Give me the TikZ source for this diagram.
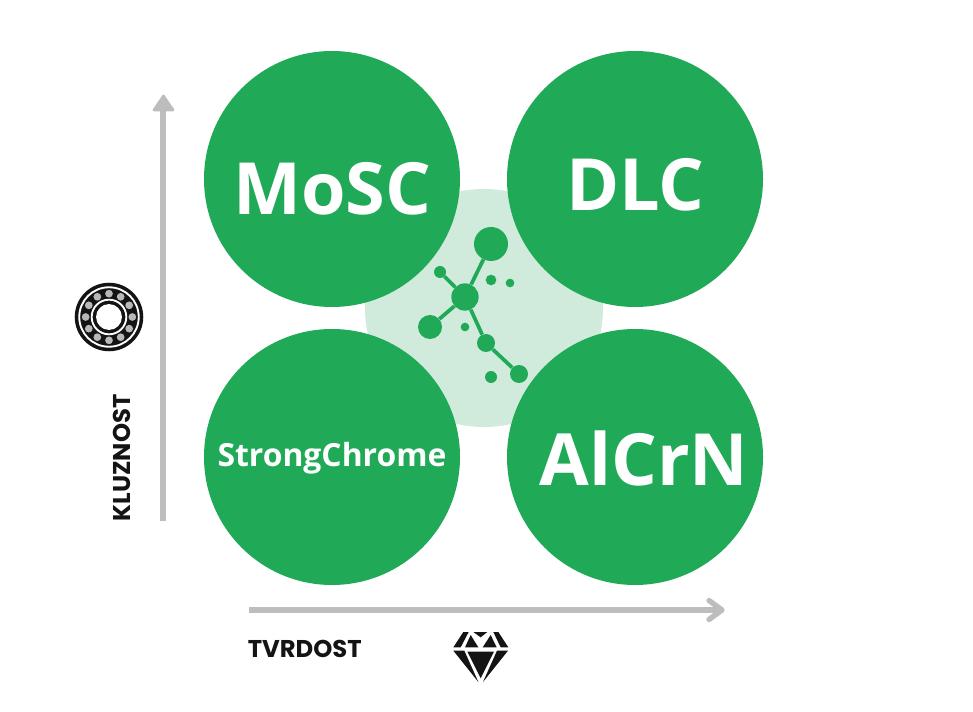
\documentclass[tikz,border=0pt]{standalone}
\usepackage{fontspec}
\setmainfont{Open Sans}
\newfontfamily\labelfont{Poppins}
\definecolor{gr}{HTML}{20AA58}
\definecolor{lgr}{HTML}{D0EBDC}
\definecolor{ax}{HTML}{BDBDBD}
\definecolor{ic}{HTML}{141414}
\tikzset{
 x=0.75pt,y=-0.75pt,
 disc/.style={circle,fill=gr,draw=none,minimum size=192pt,inner sep=0pt},
 disclabel/.style={text=white,inner sep=0pt},
 biglabel/.style={disclabel,font=\bfseries\fontsize{54}{62}\selectfont},
 axlabel/.style={text=ic,font=\labelfont\bfseries\fontsize{18.2}{21}\selectfont,inner sep=0pt},
 atom/.style={circle,fill=gr,draw=none,inner sep=0pt},
 bond/.style={draw=gr,line width=2.8pt},
 axis/.style={draw=ax,line width=4pt},
}
\begin{document}
\begin{tikzpicture}
\useasboundingbox (0,0) rectangle (973,712);
\fill[white] (0,0) rectangle (973,712);
% light background
\node[circle,fill=lgr,minimum size=178.5pt,inner sep=0pt] (halo) at (484,308) {};
% discs
\node[disc] (mosc) at (332,179) {};
\node[disc] (dlc) at (635,179) {};
\node[disc] (sc) at (332,457) {};
\node[disc] (alcrn) at (635,457) {};
\node[biglabel] (t1) at (332.5,189) {MoSC};
\node[biglabel] (t2) at (635.5,185) {DLC};
\node[disclabel,font=\bfseries\fontsize{23.9}{28}\selectfont] (t3) at (332,458) {StrongChrome};
\node[biglabel] (t4) at (644,458) {AlCrN};
% molecule
\node[atom,minimum size=25.5pt] (a1) at (491,244) {};
\node[atom,minimum size=9pt] (a2) at (440,272) {};
\node[atom,minimum size=20.5pt] (a3) at (465,297) {};
\node[atom,minimum size=18pt] (a4) at (430,327) {};
\node[atom,minimum size=13.5pt] (a5) at (486,343) {};
\node[atom,minimum size=13.5pt] (a6) at (519,374) {};
\draw[bond] (a3)--(a1);
\draw[bond] (a3)--(a2);
\draw[bond] (a3)--(a4);
\draw[bond] (a3)--(a5);
\draw[bond] (a5)--(a6);
\node[atom,minimum size=8pt] (d1) at (491,280) {};
\node[atom,minimum size=6.5pt] (d2) at (510,283) {};
\node[atom,minimum size=6.5pt] (d3) at (465,327) {};
\node[atom,minimum size=9pt] (d4) at (491,377) {};
% axes
\coordinate (v0) at (163,521);
\coordinate (v1) at (163,105);
\coordinate (h0) at (249,610);
\coordinate (h1) at (722,610);
\draw[axis] (v0)--(v1);
\fill[ax,draw=ax,line width=2pt,line join=round] (163.5,96)--(154,110)--(173,110)--cycle;
\draw[axis] (h0)--(h1);
\draw[axis,line join=round,line cap=round] (709,600.5)--(722,610)--(709,619.5);
% labels
\node[axlabel,anchor=west] (tv) at (247.5,649) {TVRDOST};
\node[axlabel,rotate=90,anchor=west] (kl) at (122,521.5) {KLUZNOST};
% bearing
\begin{scope}[shift={(109,317)}]
 \fill[ic] (0,0) circle[radius=25.7pt];
 \draw[white,line width=1.4pt] (0,0) circle[radius=22.3pt];
 \draw[white,line width=1.4pt] (0,0) circle[radius=13pt];
 \fill[white] (0,0) circle[radius=9.7pt];
 \foreach \a in {0,30,...,330}{
  \fill[white!72!black] (\a:17.5pt) circle[radius=2.9pt];
 }
\end{scope}
% diamond
\begin{scope}[shift={(430,610)},scale=1/3]
 \fill[ic] (112,125)--(192,125)--(152,205)--cycle;
 \fill[ic] (70,122)--(103,122)--(145,216)--cycle;
 \fill[ic] (234,122)--(201,122)--(159,216)--cycle;
 \fill[ic] (130,66)--(172,66)--(152,82)--cycle;
 \fill[ic] (122,75)--(145,112)--(105,112)--cycle;
 \fill[ic] (182,75)--(200,112)--(158,112)--cycle;
 \fill[ic] (100,66)--(116,66)--(92,112)--(70,112)--cycle;
 \fill[ic] (190,66)--(205,66)--(235,112)--(212,112)--cycle;
\end{scope}
\end{tikzpicture}
\end{document}
